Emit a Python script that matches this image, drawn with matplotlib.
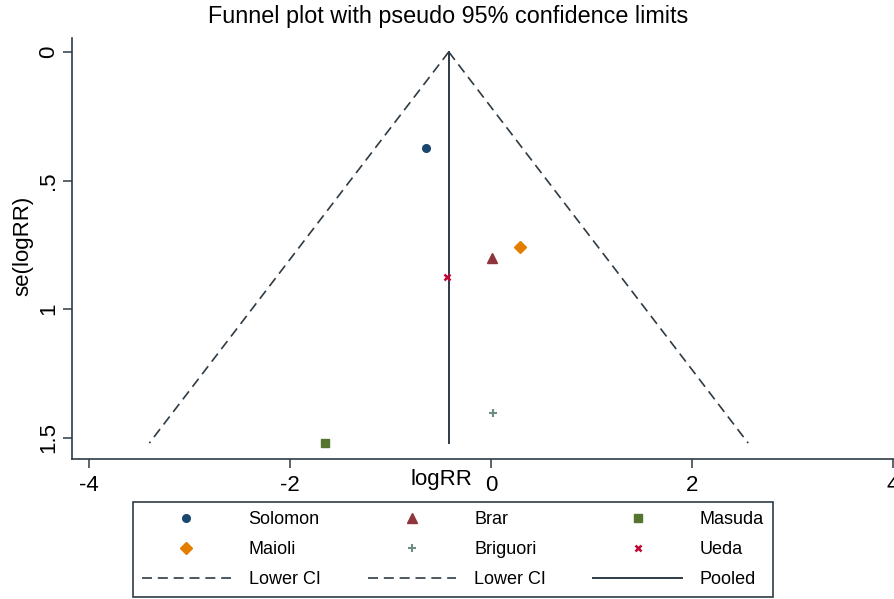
import matplotlib.pyplot as plt
from matplotlib.lines import Line2D

plt.rcParams['font.family'] = ['Liberation Sans', 'DejaVu Sans']

# study estimates
studies = ['Solomon', 'Brar', 'Masuda', 'Maioli', 'Briguori', 'Ueda']
log_rr = [-0.65, 0.01, -1.65, 0.29, 0.02, -0.44]
se_log_rr = [0.374, 0.80, 1.52, 0.76, 1.405, 0.875]
pooled = -0.42
se_max = 1.52

x_ticks = [-4, -2, 0, 2, 4]
x_tick_labels = ['-4', '-2', '0', '2', '4']
y_ticks = [0, 0.5, 1, 1.5]
y_tick_labels = ['0', '.5', '1', '1.5']

# stata s2color-ish styling
styles = {
    'Solomon':  dict(marker='o', color='#1a476f', ms=5.5),
    'Brar':     dict(marker='^', color='#90353b', ms=7),
    'Masuda':   dict(marker='s', color='#55752f', ms=6),
    'Maioli':   dict(marker='D', color='#e37e00', ms=6.5),
    'Briguori': dict(marker='+', color='#6e8e84', ms=6, mew=1.5),
    'Ueda':     dict(marker='x', color='#c10534', ms=5, mew=1.8),
}
line_color = '#2e3b45'
dash = (6, 3.5)

fig = plt.figure(figsize=(8.94, 5.99), dpi=100)
W, H = 894, 599
ax = fig.add_axes([72 / W, (H - 459) / H, (903 - 72) / W, (459 - 38) / H])

# pseudo 95% confidence limits
ax.plot([pooled, pooled - 1.96 * se_max], [0, se_max], color=line_color, lw=1.2, dashes=dash)
ax.plot([pooled, pooled + 1.96 * se_max], [0, se_max], color=line_color, lw=1.2, dashes=dash)
ax.plot([pooled, pooled], [0, se_max], color=line_color, lw=1.4)

for name, x, y in zip(studies, log_rr, se_log_rr):
    st = styles[name]
    ax.plot(x, y, linestyle='none', marker=st['marker'], color=st['color'],
            ms=st['ms'], mew=st.get('mew', 1))

ax.set_xlim(-4.169, 4.10)
ax.set_ylim(1.582, -0.054)
for s in ['top', 'right']:
    ax.spines[s].set_visible(False)
for s in ['left', 'bottom']:
    ax.spines[s].set_color(line_color)
    ax.spines[s].set_linewidth(1.2)

ax.set_xticks(x_ticks)
ax.set_xticklabels(x_tick_labels, fontsize=16)
ax.set_yticks(y_ticks)
ax.set_yticklabels(y_tick_labels, fontsize=16, rotation=90, va='center')
ax.tick_params(direction='out', length=6.5, width=1.1, color=line_color)
ax.tick_params(axis='x', pad=5)
ax.tick_params(axis='y', pad=3)

fig.text(448 / W, 1 - 17 / H, 'Funnel plot with pseudo 95% confidence limits',
         ha='center', va='center', fontsize=16.8)
fig.text(441 / W, 1 - 480 / H, 'logRR', ha='center', va='center', fontsize=16)
fig.text(23 / W, 1 - 246 / H, 'se(logRR)', ha='center', va='center', rotation=90, fontsize=16)

# legend, row-major order arranged for column-major fill
def mk(name):
    st = styles[name]
    return Line2D([], [], linestyle='none', marker=st['marker'], color=st['color'],
                  ms=st['ms'], mew=st.get('mew', 1))

ci_h = Line2D([], [], color=line_color, lw=1.2, dashes=dash)
pool_h = Line2D([], [], color=line_color, lw=1.4)
handles = [mk('Solomon'), mk('Maioli'), ci_h,
           mk('Brar'), mk('Briguori'), ci_h,
           mk('Masuda'), mk('Ueda'), pool_h]
labels = ['Solomon', 'Maioli', 'Lower CI',
          'Brar', 'Briguori', 'Lower CI',
          'Masuda', 'Ueda', 'Pooled']
leg = fig.legend(handles, labels, ncol=3, loc='lower left',
                 bbox_to_anchor=(133 / W, (H - 597) / H, (773 - 133) / W, (597 - 499) / H),
                 mode='expand', fontsize=13, handlelength=4.9, handletextpad=1.0,
                 labelspacing=0.72, borderpad=0.5, fancybox=False, framealpha=1,
                 edgecolor=line_color, borderaxespad=0)
leg.get_frame().set_linewidth(1.2)

fig.savefig('out.png', dpi=100)
